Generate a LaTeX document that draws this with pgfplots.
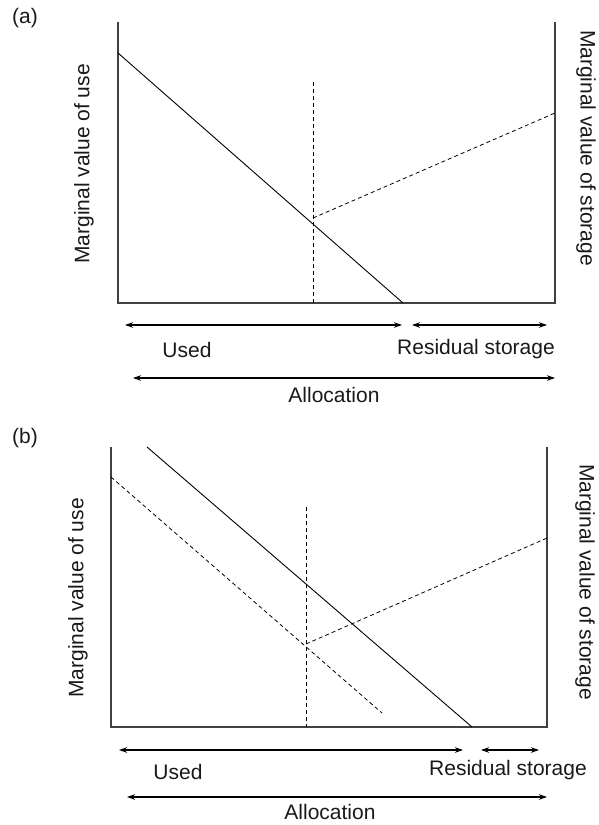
\documentclass[border=0pt]{standalone}
\usepackage{pgfplots}
\pgfplotsset{compat=1.18}
\usepackage{fontspec}
\setmainfont{Liberation Sans}
\usetikzlibrary{arrows.meta}
\tikzset{
 ln/.style={black, line width=0.9pt, mark=none},
 dsh/.style={black, line width=0.8pt, mark=none, dash pattern=on 4pt off 3pt},
 arr/.style={black, mark=none, line width=1.1pt,{Stealth[length=8pt,width=5.5pt]}-{Stealth[length=8pt,width=5.5pt]}},
 ax/.style={line width=1.5pt, color=black!75, mark=none},
 lab/.style={font=\fontsize{21}{25}\selectfont, inner sep=0pt, text=black!90},
}
\begin{document}
\begin{tikzpicture}
\begin{axis}[
 width=599pt, height=825pt, scale only axis,
 xmin=0,xmax=599,ymin=0,ymax=825, y dir=reverse,
 hide axis, clip=false,
 cycle list={{black,mark=none}},
]
\path (axis cs:0,0) (axis cs:599,825);
% ---- panel (a)
\addplot[ax] coordinates {(118,22) (118,303) (555,303) (555,22)};
\addplot[ln] coordinates {(118,53) (403,303)};
\addplot[dsh] coordinates {(313,82) (313,303)};
\addplot[dsh] coordinates {(313,218) (555,113)};
\addplot[arr] coordinates {(125,325) (402,325)};
\addplot[arr] coordinates {(412,325) (547,325)};
\addplot[arr] coordinates {(133,378) (555,378)};
\node[lab] at (axis cs:25,18) {(a)};
\node[lab] at (axis cs:187,350) {Used};
\node[lab] at (axis cs:476,349) {Residual storage};
\node[lab] at (axis cs:334,395) {Allocation};
\node[lab, rotate=90] at (axis cs:84,164) {Marginal value of use};
\node[lab, rotate=-90] at (axis cs:586,148) {Marginal value of storage};
% ---- panel (b)
\addplot[ax] coordinates {(111,447) (111,727) (547,727) (547,447)};
\addplot[ln] coordinates {(147,447) (472,727)};
\addplot[dsh] coordinates {(111,477) (382,713)};
\addplot[dsh] coordinates {(306,507) (306,727)};
\addplot[dsh] coordinates {(306,644) (547,538)};
\addplot[arr] coordinates {(119,750) (463,750)};
\addplot[arr] coordinates {(481,750) (539,750)};
\addplot[arr] coordinates {(127,797) (547,797)};
\node[lab] at (axis cs:25,438) {(b)};
\node[lab] at (axis cs:178,772) {Used};
\node[lab] at (axis cs:508,770) {Residual storage};
\node[lab] at (axis cs:330,812) {Allocation};
\node[lab, rotate=90] at (axis cs:78,598) {Marginal value of use};
\node[lab, rotate=-90] at (axis cs:585,582) {Marginal value of storage};
\end{axis}
\end{tikzpicture}
\end{document}
